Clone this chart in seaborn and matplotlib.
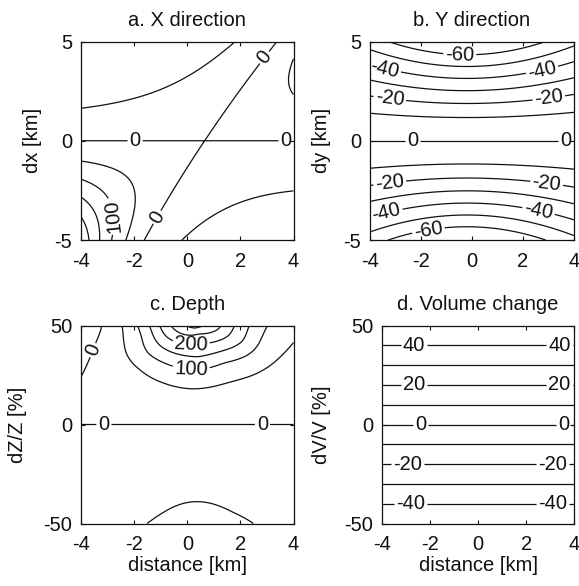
import numpy as np
import matplotlib
matplotlib.use("Agg")
import matplotlib.pyplot as plt
import seaborn as sns

# ------------------------------------------------------------------ data
titles = ["a. X direction", "b. Y direction", "c. Depth", "d. Volume change"]
ylabels = ["dx [km]", "dy [km]", "dZ/Z [%]", "dV/V [%]"]
xlabel_text = "distance [km]"
x_ticks = [-4, -2, 0, 2, 4]
km_ticks = [-5, 0, 5]
pct_ticks = [-50, 0, 50]

# panel a: levels; oblique zero line x = c0 + c1*dx + c2*dx^2;
# saturation distance, x-tilt; positive branch (amp, rate); negative branch (amp, rate)
a_levels = [-50, 0, 50, 100, 150, 200, 250]
a_zero_line = [0.65, 0.5, 0.009]
a_shape = [4.0, -0.0446]
a_pos_branch = [156.0, 0.073]
a_neg_branch = [80.0, 0.1425]
a_label_levels = [0, 100]
a_label_pos = [(-1.97, 0.0), (3.72, 0.0), (3.02, 4.07), (-1.08, -3.9), (-2.8, -3.8)]

# panel b: levels, amplitude / knee / centre / curvature
b_levels = [-60, -50, -40, -30, -20, -10]
b_params = [17.98, 1.292, -0.2, 0.02]
b_label_levels = [-60, -40, -20]
b_label_pos = [(-0.47, 4.7), (-3.35, 3.99), (2.73, 3.66), (-3.2, 2.4), (3.0, 2.31),
               (-3.2, -2.39), (2.9, -2.39), (-3.35, -3.65), (2.6, -3.57), (-1.7, -4.58)]
b_zero_label_pos = [(-2.34, 0.0), (3.67, 0.0)]

# panel c: points (distance, dZ/Z, value)
c_pts_x = [-4.0, -3.56, -3.22,
           -2.47, -2.42, -2.31, -1.80, -0.93, 0.2, 1.52, 2.89, 3.39, 4.0,
           -1.87, -1.72, -1.49, -0.87, 0.14, 1.39, 2.39, 2.8, 3.02,
           -1.43, -1.17, 0.4, 2.07, 2.33,
           -1.05, -0.84, 0.14, 1.56, 1.77,
           -0.62, -0.49, 0.4, 1.15, 1.27,
           -0.05, 0.3, 0.64,
           -1.52, -0.93, 0.4, 1.76, 2.49,
           0.4, -4.0, 4.0, -4.0, 4.0, 4.0, -4.0, 4.0, -4.0]
c_pts_y = [24.4, 37.5, 50,
           50, 44, 36.2, 27.8, 21.1, 18.0, 21.1, 27.8, 32.8, 41.3,
           50, 44, 36.2, 31.1, 27.8, 31.1, 36.2, 44, 50,
           50, 42, 34.2, 42, 50,
           50, 45, 40.4, 45, 50,
           50, 48, 46.0, 48, 50,
           50, 48.3, 50,
           -50, -44.6, -39.0, -44.6, -50,
           -20, -50, -50, -25, -25, 50, 50, 20, 10]
c_pts_v = [0, 0, 0,
           50, 50, 50, 50, 50, 50, 50, 50, 50, 50,
           100, 100, 100, 100, 100, 100, 100, 100, 100,
           150, 150, 150, 150, 150,
           200, 200, 200, 200, 200,
           250, 250, 250, 250, 250,
           300, 300, 300,
           -50, -50, -50, -50, -50,
           -32, -30, -32, -13, -15, 62, -12, 22, 3]
c_levels = [-50, 0, 50, 100, 150, 200, 250, 300]
c_smooth = [12.5, 0.05]
c_label_levels = [0, 100, 200]
c_label_pos = [(-3.15, 0.0), (2.83, 0.0), (-3.56, 37.5), (0.14, 40.4), (0.14, 27.8)]

# panel d
d_levels = [-40, -30, -20, -10, 0, 10, 20, 30, 40]
d_label_levels = [-40, -20, 0, 20, 40]
d_label_pos = [(-2.68, 40), (-2.68, 20), (-2.4, 0), (-2.96, -20), (-2.81, -40),
               (3.40, 40), (3.40, 20), (3.58, 0), (3.1, -20), (3.1, -40)]

# ------------------------------------------------------------------ style
sns.set_theme(style="ticks")
plt.rcParams["font.family"] = ["Liberation Sans", "DejaVu Sans"]
plt.rcParams["axes.unicode_minus"] = False
plt.rcParams["contour.negative_linestyle"] = "solid"
FS = 14.5
LINE = "#111111"

fig = plt.figure(figsize=(5.79, 5.86), dpi=100)
W, H = 579.0, 586.0


def add_ax(left, top, right, bottom):
    return fig.add_axes([left / W, 1 - bottom / H, (right - left) / W, (bottom - top) / H])


ax_a = add_ax(81.3, 41.5, 293.5, 240.0)
ax_b = add_ax(370.0, 41.5, 574.0, 240.0)
ax_c = add_ax(81.3, 325.5, 293.5, 523.5)
ax_d = add_ax(382.3, 325.5, 574.0, 523.5)

xg = np.linspace(-4, 4, 400)
ykm = np.linspace(-5, 5, 400)
ypc = np.linspace(-50, 50, 400)
Xk, Yk = np.meshgrid(xg, ykm)
Xp, Yp = np.meshgrid(xg, ypc)

# panel a field
dline = Xk - (a_zero_line[0] + a_zero_line[1] * Yk + a_zero_line[2] * Yk ** 2)
Dsat = a_shape[0] * np.tanh(dline / a_shape[0])
U = Yk * Dsat * np.exp(a_shape[1] * Xk)
Za = np.where(U >= 0,
              a_pos_branch[0] * (np.exp(a_pos_branch[1] * U) - 1.0),
              -a_neg_branch[0] * (1.0 - np.exp(a_neg_branch[1] * U)))

# panel b field
gb = 1.0 / (1.0 + b_params[3] * (Xk - b_params[2]) ** 2)
Zb = -b_params[0] * gb * Yk ** 2 / (np.abs(Yk) + b_params[1])

# panel c field: thin-plate spline through the read points (value / (dZ/Z))
cx = np.asarray(c_pts_x, float)
cy = np.asarray(c_pts_y, float)
cv = np.asarray(c_pts_v, float)
ch = cv / (cy / 50.0)
P = np.column_stack([cx, cy / c_smooth[0]])


def tps_kernel(r2):
    out = np.zeros_like(r2)
    m = r2 > 0
    out[m] = 0.5 * r2[m] * np.log(r2[m])
    return out


N = len(cx)
r2 = ((P[:, None, :] - P[None, :, :]) ** 2).sum(-1)
A = np.zeros((N + 3, N + 3))
A[:N, :N] = tps_kernel(r2) + c_smooth[1] * np.eye(N)
A[:N, N] = 1.0
A[:N, N + 1] = P[:, 0]
A[:N, N + 2] = P[:, 1]
A[N:, :N] = A[:N, N:].T
rhs = np.concatenate([ch, np.zeros(3)])
sol = np.linalg.solve(A, rhs)
G = np.column_stack([Xp.ravel(), Yp.ravel() / c_smooth[0]])
rg = ((G[:, None, :] - P[None, :, :]) ** 2).sum(-1)
Hc = tps_kernel(rg) @ sol[:N] + sol[N] + sol[N + 1] * G[:, 0] + sol[N + 2] * G[:, 1]
Zc = (Yp / 50.0) * Hc.reshape(Xp.shape)

# panel d field
Zd = Yp.copy()


def draw(ax, X, Y, Z, levels, lab_levels, lab_pos):
    plain = [lv for lv in levels if lv not in lab_levels]
    if plain:
        ax.contour(X, Y, Z, levels=plain, colors=LINE, linewidths=0.9,
                   linestyles="solid")
    cs = ax.contour(X, Y, Z, levels=lab_levels, colors=LINE, linewidths=0.9,
                    linestyles="solid")
    texts = ax.clabel(cs, manual=lab_pos, inline=True, inline_spacing=2,
                      fmt="%d", fontsize=FS, colors=LINE)
    return texts


texts_a = draw(ax_a, Xk, Yk, Za, a_levels, a_label_levels, a_label_pos)
for t in texts_a:
    if t.get_text() == "100":
        rot = t.get_rotation() % 360
        if 180 < rot < 360:
            t.set_rotation(rot - 180)
draw(ax_b, Xk, Yk, Zb, b_levels, b_label_levels, b_label_pos)
draw(ax_b, Xk, Yk, np.sign(Yk) * Zb, [0], [0], b_zero_label_pos)
draw(ax_c, Xp, Yp, Zc, c_levels, c_label_levels, c_label_pos)
draw(ax_d, Xp, Yp, Zd, d_levels, d_label_levels, d_label_pos)

label_x = [-0.185, -0.191, -0.257, -0.268]
for ax, t, yl, yt, lx in zip([ax_a, ax_b, ax_c, ax_d], titles, ylabels,
                             [km_ticks, km_ticks, pct_ticks, pct_ticks], label_x):
    ax.set_xlim(-4, 4)
    ax.set_ylim(yt[0], yt[-1])
    ax.set_xticks(x_ticks)
    ax.set_yticks(yt)
    ax.set_title(t, fontsize=FS, pad=11, color=LINE)
    ax.set_ylabel(yl, fontsize=FS, color=LINE)
    ax.yaxis.set_label_coords(lx, 0.5)
    ax.tick_params(direction="in", length=3, width=0.8, top=True, right=True,
                   labelsize=FS, colors=LINE)
    ax.tick_params(axis="x", pad=8.5)
    ax.tick_params(axis="y", pad=6.5)
    for sp in ax.spines.values():
        sp.set_color(LINE)
        sp.set_linewidth(0.9)
    ax.set_facecolor("white")

for ax in (ax_c, ax_d):
    ax.set_xlabel(xlabel_text, fontsize=FS, color=LINE)
    ax.xaxis.set_label_coords(0.5, -0.165)

fig.savefig("out.png", dpi=100, facecolor="white")
